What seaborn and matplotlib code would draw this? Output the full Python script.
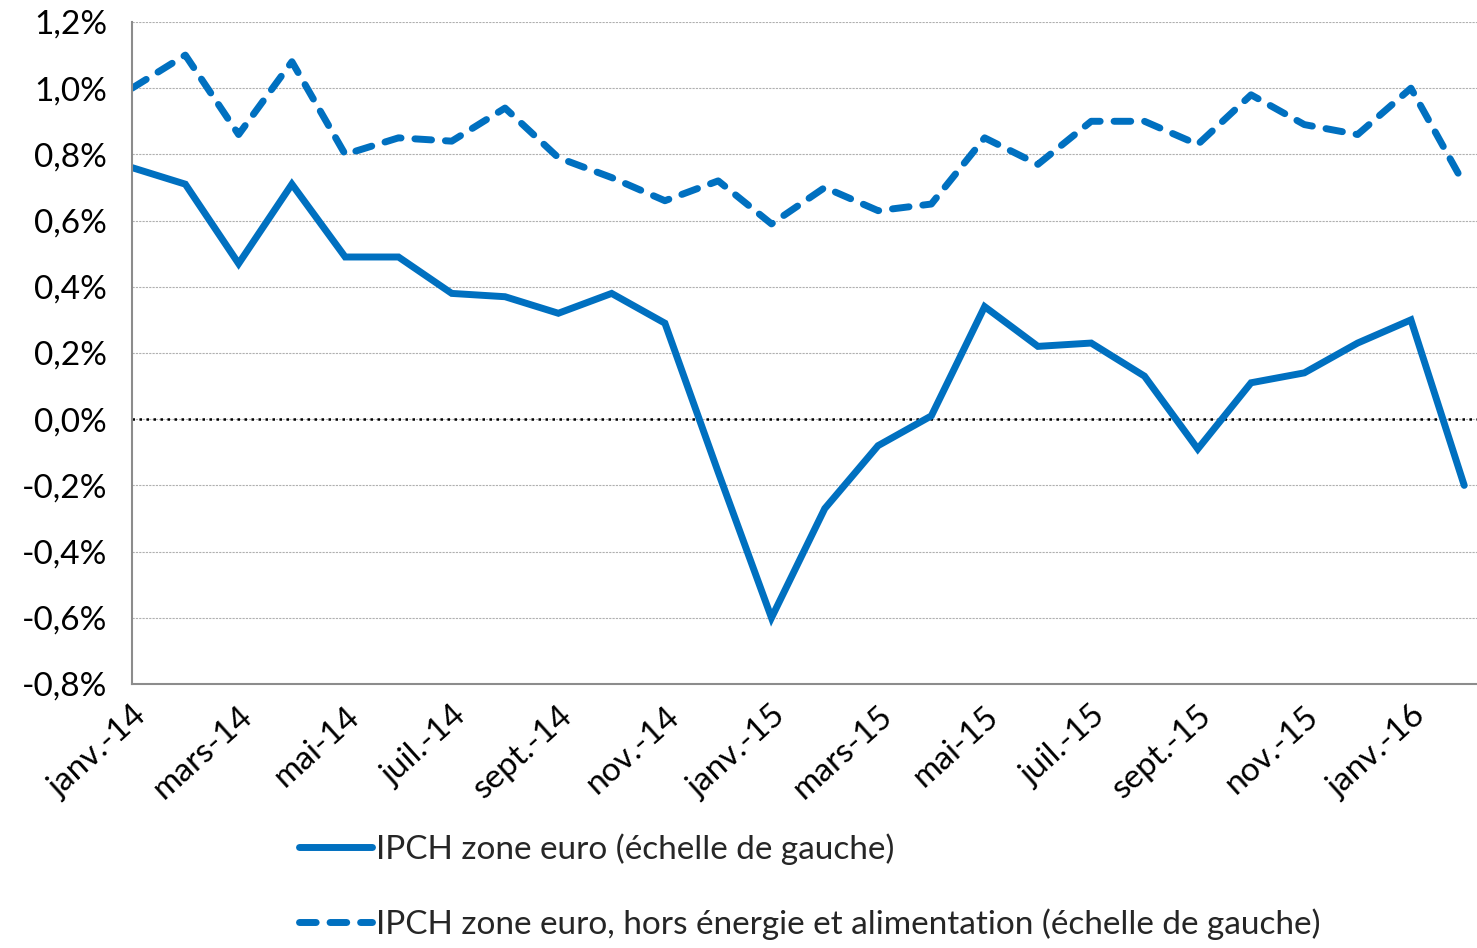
import numpy as np
import pandas as pd
import seaborn as sns
import matplotlib.pyplot as plt

# ===============================
# Données
# ===============================
mois = [
    "janv.-14", "févr.-14", "mars-14", "avr.-14", "mai-14", "juin-14",
    "juil.-14", "août-14", "sept.-14", "oct.-14", "nov.-14", "déc.-14",
    "janv.-15", "févr.-15", "mars-15", "avr.-15", "mai-15", "juin-15",
    "juil.-15", "août-15", "sept.-15", "oct.-15", "nov.-15", "déc.-15",
    "janv.-16", "févr.-16",
]
ipch = [
    0.76, 0.71, 0.47, 0.71, 0.49, 0.49, 0.38, 0.37, 0.32, 0.38, 0.29, -0.16,
    -0.60, -0.27, -0.08, 0.01, 0.34, 0.22, 0.23, 0.13, -0.09, 0.11, 0.14, 0.23,
    0.30, -0.20,
]
ipch_sous_jacent = [
    1.00, 1.10, 0.86, 1.08, 0.80, 0.85, 0.84, 0.94, 0.79, 0.73, 0.66, 0.72,
    0.59, 0.70, 0.63, 0.65, 0.85, 0.77, 0.90, 0.90, 0.83, 0.98, 0.89, 0.86,
    1.00, 0.71,
]
label_ipch = "IPCH zone euro (échelle de gauche)"
label_sj = "IPCH zone euro, hors énergie et alimentation (échelle de gauche)"
yticks = [-0.8, -0.6, -0.4, -0.2, 0.0, 0.2, 0.4, 0.6, 0.8, 1.0, 1.2]

df = pd.DataFrame({"idx": np.arange(len(mois)), "ipch": ipch, "sj": ipch_sous_jacent})

# ===============================
# Style
# ===============================
sns.set_style("white")
plt.rcParams["font.family"] = ["Lato", "DejaVu Sans"]
bleu = "#0070C0"
fs = 24

fig = plt.figure(figsize=(14.77, 9.48), dpi=100)
ax = fig.add_axes([0.0894, 0.2785, 0.9106, 0.6983])

sns.lineplot(data=df, x="idx", y="ipch", ax=ax, color=bleu, linewidth=5,
             label=label_ipch, solid_capstyle="round", solid_joinstyle="miter")
sns.lineplot(data=df, x="idx", y="sj", ax=ax, color=bleu, linewidth=5,
             label=label_sj)
ax.lines[1].set_dashes((2.4, 2.0))
ax.lines[1].set_dash_capstyle("round")

# ligne zéro
ax.axhline(0, color="black", linestyle=(0, (1, 1.8)), linewidth=1.8, zorder=1)

# axes
ax.set_xlim(0, 25.24)
ax.set_ylim(-0.8, 1.2)
ax.set_yticks(yticks)
ax.set_yticklabels([f"{v:.1f}%".replace(".", ",") for v in yticks], fontsize=fs)
pos = df["idx"][::2]
ax.set_xticks(pos)
ax.set_xticklabels(mois[::2], fontsize=fs, rotation=42, ha="right",
                   rotation_mode="anchor")
ax.set_xlabel("")
ax.set_ylabel("")
ax.grid(axis="y", color="#b0b0b0", linestyle=(0, (2, 1)), linewidth=0.8)
for s in ["top", "right"]:
    ax.spines[s].set_visible(False)
for s in ["left", "bottom"]:
    ax.spines[s].set_color("#8c8c8c")
    ax.spines[s].set_linewidth(1.5)
ax.tick_params(axis="both", direction="out", length=8, width=1.5,
               color="#8c8c8c", labelcolor="black")
ax.tick_params(axis="y", pad=10)
ax.tick_params(axis="x", pad=4)

# légende
ax.get_legend().remove()
h, l = ax.get_legend_handles_labels()
fig.legend(h, l, loc="upper left", bbox_to_anchor=(0.1934, 0.135),
           frameon=False, fontsize=fs, handlelength=2.2, handletextpad=0.1,
           labelspacing=1.3, borderaxespad=0)

fig.savefig("out.png", dpi=100)
